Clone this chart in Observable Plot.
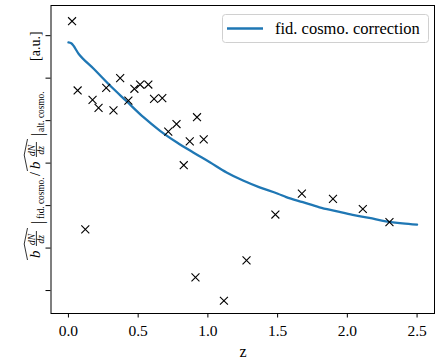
<!DOCTYPE html>
<html>
<head>
<meta charset="utf-8">
<script src="https://cdn.jsdelivr.net/npm/d3@7"></script>
<script src="https://cdn.jsdelivr.net/npm/@observablehq/plot@0.6"></script>
<style>
  html, body { margin: 0; padding: 0; background: #fff; }
  #chart { width: 436px; height: 359px; }
  svg { font-family: "Liberation Serif", "DejaVu Serif", serif; }
</style>
</head>
<body>
<div id="chart"></div>
<script>
// Measured ratio of bias-weighted dN/dz (fiducial / alternative cosmology) per redshift bin
const zObs = [0.026, 0.066, 0.121, 0.173, 0.216, 0.271, 0.323, 0.371, 0.430, 0.473,
              0.514, 0.573, 0.614, 0.673, 0.716, 0.775, 0.827, 0.870, 0.911, 0.922,
              0.970, 1.115, 1.277, 1.484, 1.674, 1.897, 2.111, 2.302];
const ratioObs = [7.34, 5.71, 2.44, 5.49, 5.30, 5.77, 5.24, 6.00, 5.47, 5.75,
                  5.85, 5.85, 5.51, 5.53, 4.74, 4.92, 3.95, 4.51, 1.31, 5.08,
                  4.56, 0.76, 1.71, 2.79, 3.28, 3.16, 2.92, 2.61];

// Fiducial-cosmology correction curve
const zFid = [0.0, 0.02, 0.074, 0.181, 0.300, 0.419, 0.538, 0.657, 0.776, 0.895,
              1.014, 1.134, 1.252, 1.371, 1.502, 1.562, 1.681, 1.800, 1.919, 2.038,
              2.157, 2.276, 2.395, 2.5];
const corrFid = [6.84, 6.82, 6.57, 6.22, 5.82, 5.45, 5.08, 4.76, 4.49, 4.25,
                 4.02, 3.78, 3.59, 3.43, 3.28, 3.20, 3.08, 2.96, 2.87, 2.78,
                 2.71, 2.63, 2.58, 2.55];

const xTicks = [0, 0.5, 1.0, 1.5, 2.0, 2.5];
const yTicks = [1, 2, 3, 4, 5, 6, 7];
const legendLabel = "fid. cosmo. correction";
const xLabel = "z";

const points = zObs.map((z, i) => ({z, r: ratioObs[i]}));
const curve = zFid.map((z, i) => ({z, c: corrFid[i]}));

const blue = "#1f77b4";
const W = 436, H = 359;
const mL = 50.5, mR = 2, mT = 5, mB = 46;

const plot = Plot.plot({
  width: W,
  height: H,
  marginLeft: mL,
  marginRight: mR,
  marginTop: mT,
  marginBottom: mB,
  style: {fontFamily: "Liberation Serif, serif", fontSize: "15.5px", color: "black", background: "white"},
  x: {domain: [-0.125, 2.625]},
  y: {domain: [0.46, 7.71]},
  marks: [
    Plot.line(curve, {x: "z", y: "c", stroke: blue, strokeWidth: 2.3, curve: "monotone-x"}),
    Plot.dot(points, {x: "z", y: "r", symbol: "times", r: 3.7, stroke: "black", strokeWidth: 1.1}),
    Plot.axisX({ticks: xTicks, tickFormat: d3.format(".1f"), tickSize: 4.5, tickPadding: 6.5, label: null, fontSize: 15.5}),
    Plot.axisY({ticks: yTicks, tickSize: 5, tickFormat: () => "", label: null}),
    Plot.frame({stroke: "black", strokeWidth: 1})
  ]
});

document.getElementById("chart").appendChild(plot);

const svg = d3.select(plot);

// x-axis title
svg.append("text")
  .attr("x", 243).attr("y", 357)
  .attr("text-anchor", "middle")
  .attr("font-size", 16)
  .attr("fill", "black")
  .text(xLabel);

// y-axis title: hat{b dN/dz}|fid. cosmo. / hat{b dN/dz}|alt. cosmo. [a.u.]
const yl = svg.append("g")
  .attr("transform", "translate(40,258) rotate(-90)")
  .attr("text-anchor", "start")
  .attr("fill", "black");

function piece(s, t, txt, size, italic) {
  yl.append("text")
    .attr("x", s).attr("y", t)
    .attr("font-size", size)
    .attr("font-style", italic ? "italic" : "normal")
    .text(txt);
}
function bdndz(s0) {
  piece(s0, 0, "b", 15, true);
  piece(s0 + 13, -5.5, "dN", 9.5, true);
  piece(s0 + 14.5, 3.5, "dz", 9.5, true);
  yl.append("line")
    .attr("x1", s0 + 12).attr("x2", s0 + 27)
    .attr("y1", -3.6).attr("y2", -3.6)
    .attr("stroke", "black").attr("stroke-width", 0.8);
  yl.append("path")
    .attr("d", `M${s0 - 2},-12.5 L${s0 + 14},-15.8 L${s0 + 30},-12.5`)
    .attr("fill", "none").attr("stroke", "black").attr("stroke-width", 0.8);
}
bdndz(0);
piece(34, 2.5, "|", 17, false);
piece(39, 3.5, "fid. cosmo.", 9.3, false);
piece(82, 0, "/", 14, false);
bdndz(89);
piece(122, 2.5, "|", 17, false);
piece(126, 3.5, "alt. cosmo.", 9.3, false);
piece(197, 0, "[a.u.]", 14, false);

// legend
const lg = svg.append("g").attr("text-anchor", "start");
lg.append("rect")
  .attr("x", 222.5).attr("y", 14.5).attr("width", 206).attr("height", 28)
  .attr("rx", 3).attr("fill", "white").attr("fill-opacity", 0.8)
  .attr("stroke", "#d0d0d0").attr("stroke-width", 1);
lg.append("line")
  .attr("x1", 227).attr("x2", 263).attr("y1", 28.5).attr("y2", 28.5)
  .attr("stroke", blue).attr("stroke-width", 2.3);
lg.append("text")
  .attr("x", 275).attr("y", 33.5)
  .attr("font-size", 16.5).attr("fill", "black")
  .text(legendLabel);
</script>
</body>
</html>
